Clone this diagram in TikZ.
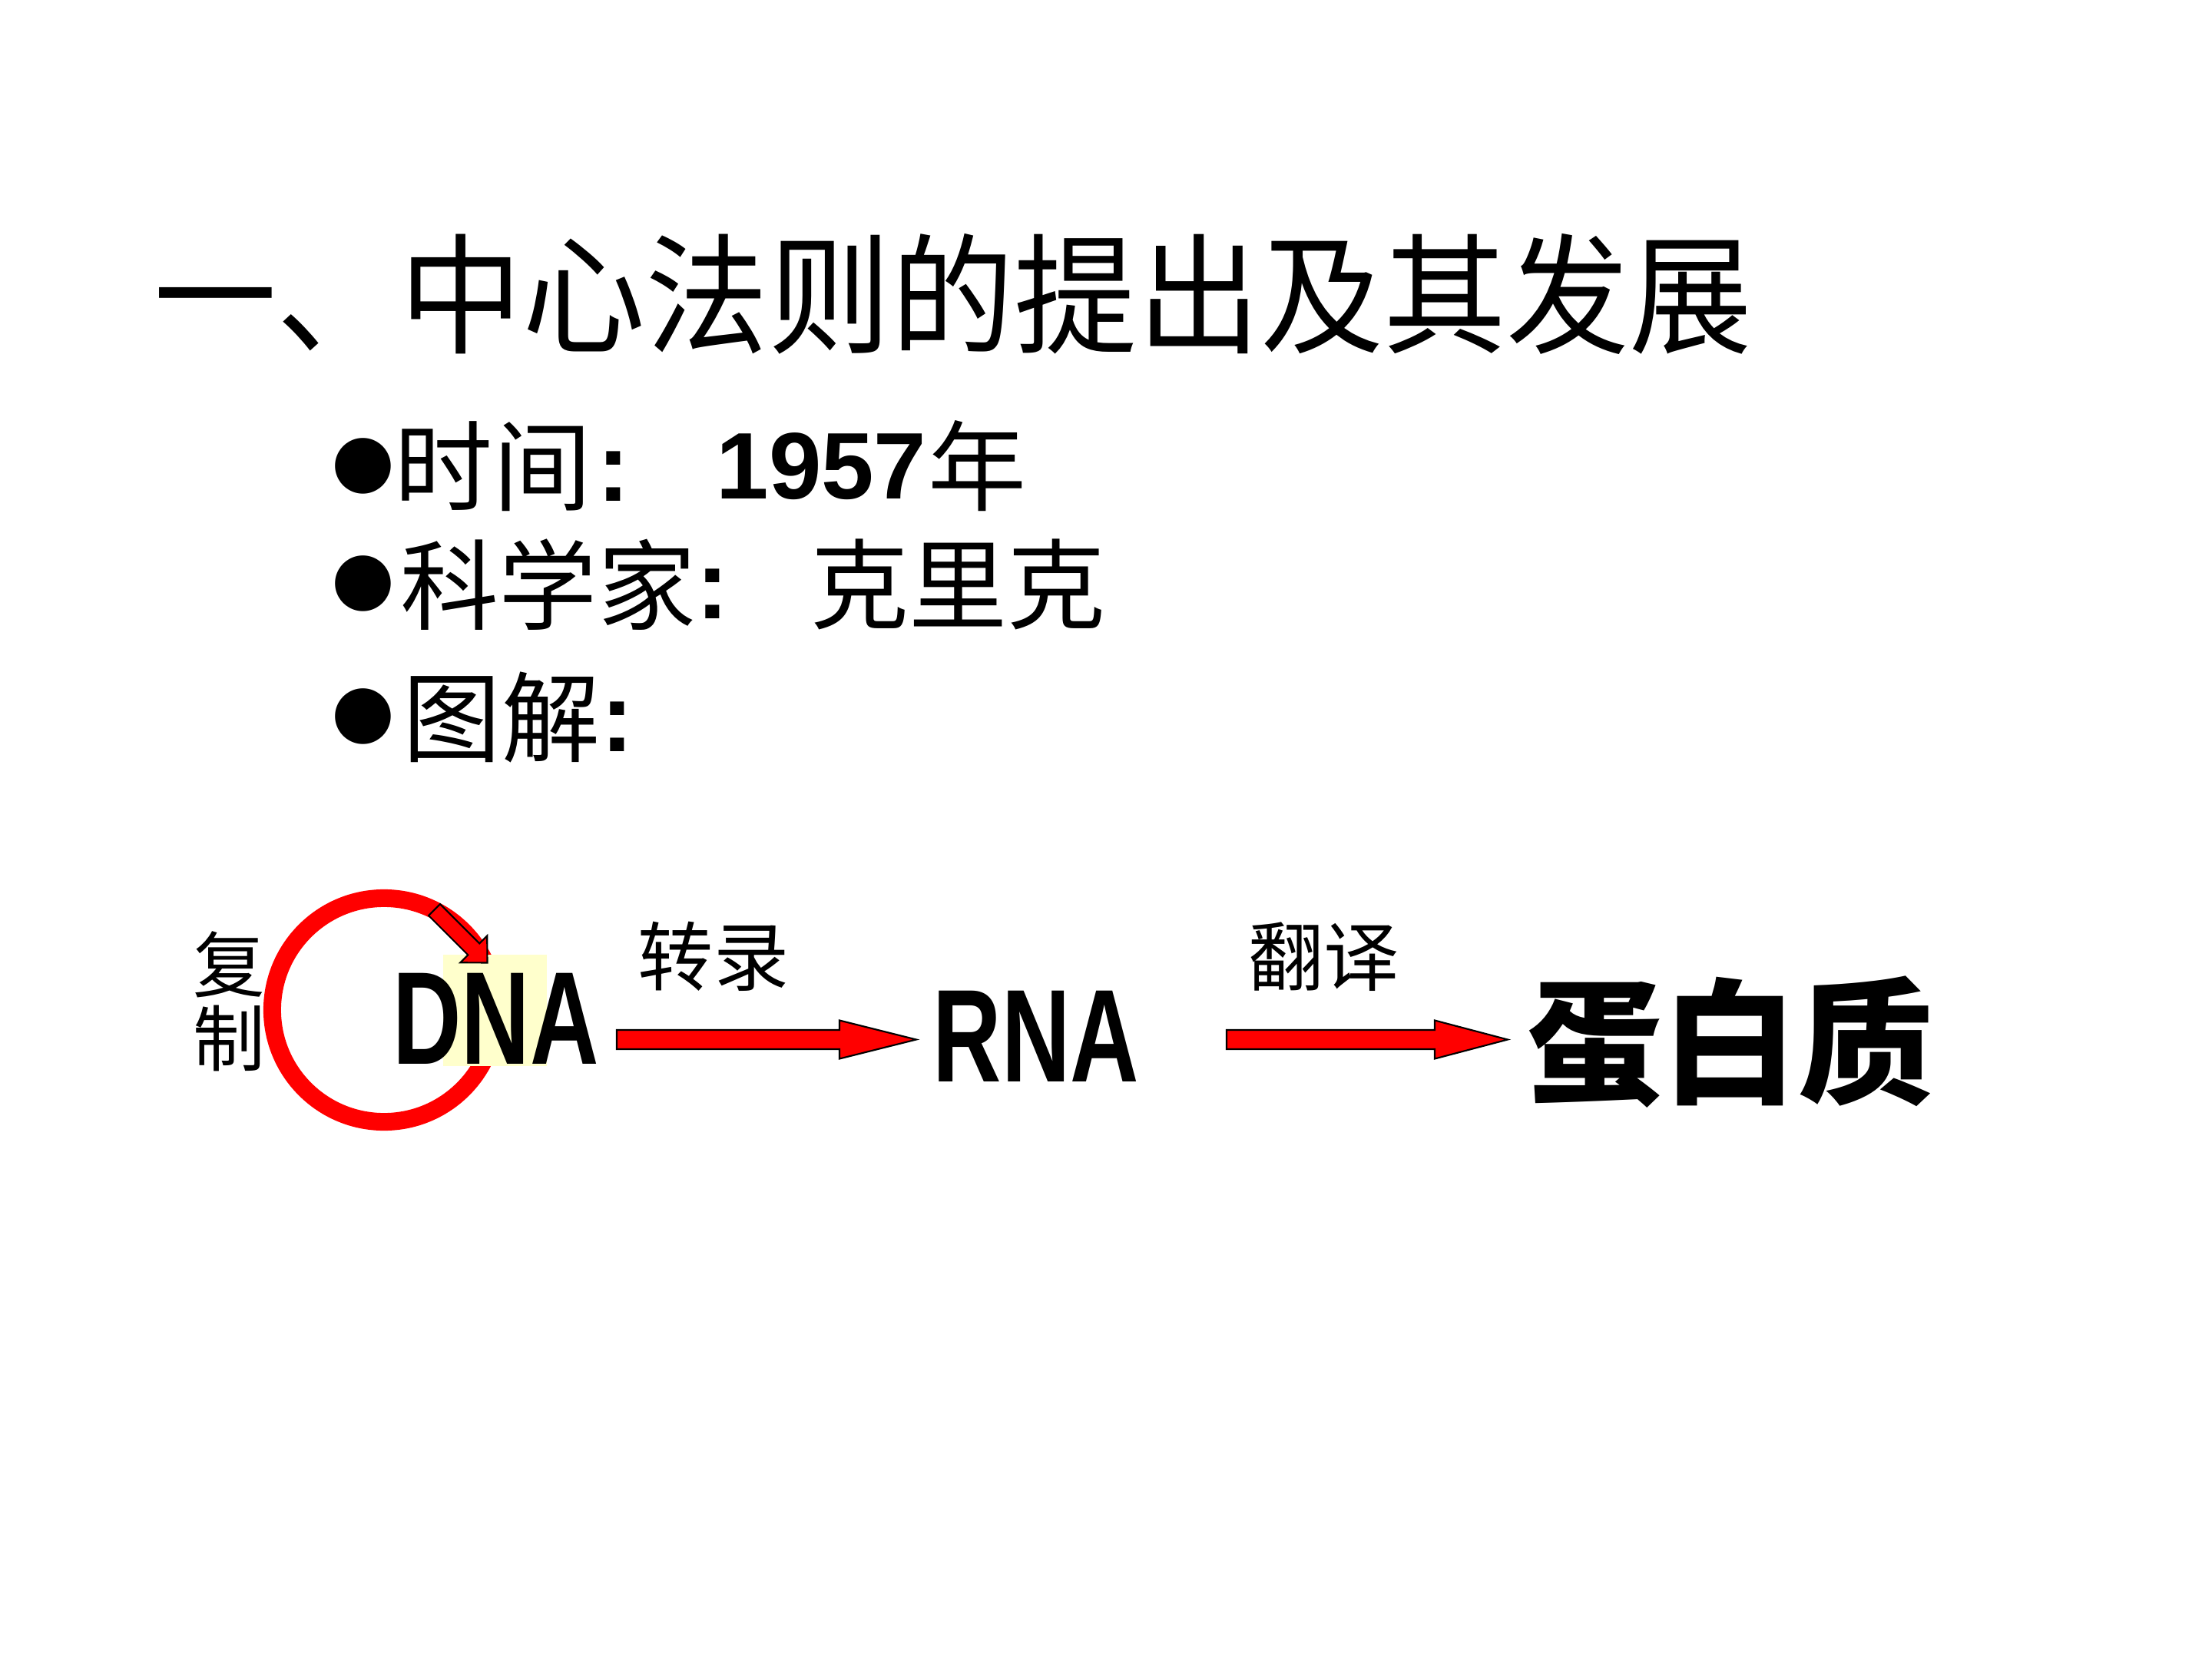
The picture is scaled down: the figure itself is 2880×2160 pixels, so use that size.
\documentclass[tikz,border=0pt]{standalone}
\usepackage{fontspec}
\newfontfamily\cjk{Noto Sans CJK SC}
\newfontfamily\lsans{Liberation Sans}
\newfontfamily\djv{DejaVu Sans}
\usetikzlibrary{calc}
\definecolor{hlyellow}{RGB}{255,255,204}
\definecolor{arrred}{RGB}{255,0,0}
\tikzset{
  txt/.style={inner sep=0pt, outer sep=0pt, anchor=center},
  titlefont/.style={font=\cjk\fontsize{45.5pt}{50pt}\selectfont},
  linefont/.style={font=\cjk\fontsize{36.4pt}{40pt}\selectfont},
  bulletfont/.style={font=\djv\fontsize{27pt}{30pt}\selectfont},
  colonfont/.style={font=\lsans\bfseries\fontsize{36.4pt}{40pt}\selectfont},
  numfont/.style={font=\lsans\bfseries\fontsize{35pt}{40pt}\selectfont},
  labelfont/.style={font=\cjk\fontsize{27.9pt}{30pt}\selectfont},
  molfont/.style={font=\lsans\bfseries\fontsize{48.9pt}{52pt}\selectfont, xscale=0.72},
  protfont/.style={font=\cjk\bfseries\fontsize{50.1pt}{54pt}\selectfont, yscale=1.0},
  blockstyle/.style={fill=arrred, draw=black, line width=0.6pt, line join=miter},
  ringstyle/.style={draw=arrred, line width=0.23cm}
}
\newcommand\bul{\makebox[21pt][c]{●}}
% block arrow: #1 start, #2 tip, #3 half shaft width, #4 half head width, #5 head length
\newcommand\blockarr[5]{%
  \coordinate (bab) at ($(#2)!#5!(#1)$);
  \filldraw[blockstyle] ($(#1)!#3!90:(#2)$) -- ($(bab)!#3!-90:(#1)$) -- ($(bab)!#4!-90:(#1)$)
    -- (#2) -- ($(bab)!#4!90:(#1)$) -- ($(bab)!#3!90:(#1)$) -- ($(#1)!#3!-90:(#2)$) -- cycle;}
\begin{document}
\begin{tikzpicture}[x=0.01cm, y=-0.01cm]
\useasboundingbox (0,0) rectangle (2880,2160);
\fill[white] (0,0) rectangle (2880,2160);

% title
\node[txt, titlefont, yscale=1.06] (title) at (1241,383) {一、中心法则的提出及其发展};

% line 1
\node[txt, bulletfont] (b1) at (473,607) {\bul};
\node[txt, linefont] (t1) at (642,607) {时间};
\node[txt, colonfont] (c1) at (799,620) {:};
\node[txt, numfont] (n1) at (1069.5,607) {1957};
\node[txt, linefont] (y1) at (1272,607) {年};

% line 2
\node[txt, bulletfont] (b2) at (473,760) {\bul};
\node[txt, linefont] (t2) at (714,761) {科学家};
\node[txt, colonfont] (c2) at (928,773) {:};
\node[txt, linefont] (k2) at (1247.5,761) {克里克};

% line 3
\node[txt, bulletfont] (b3) at (473,933) {\bul};
\node[txt, linefont] (t3) at (653,934) {图解};
\node[txt, colonfont] (c3) at (804,946) {:};

% replication loop
\coordinate (loopc) at (500,1315);
\draw[ringstyle] (loopc) circle[radius=1.455cm];
\fill[hlyellow] (577,1243) rectangle (712,1388);
\coordinate (ls) at (565.5,1184.5);
\coordinate (le) at (634.5,1253.5);
\blockarr{ls}{le}{0.106cm}{0.246cm}{0.25cm}

% molecules
\node[txt, molfont] (dna) at (645.5,1326.5) {DNA};
\node[txt, molfont] (rna) at (1349,1349) {RNA};
\node[txt, protfont] (prot) at (2253,1357) {蛋白质};

% labels
\node[txt, font=\cjk\fontsize{26.7pt}{27.3pt}\selectfont, align=center] (fuzhi) at (298,1304) {复\\制};
\node[txt, labelfont] (zhuanlu) at (929,1245) {转录};
\node[txt, labelfont] (fanyi) at (1723.5,1246) {翻译};

% arrows
\coordinate (a1s) at (803,1353.5);
\coordinate (a1e) at (1193,1353.5);
\coordinate (a2s) at (1597,1353.5);
\coordinate (a2e) at (1963,1353.5);
\blockarr{a1s}{a1e}{0.125cm}{0.25cm}{1.0cm}
\blockarr{a2s}{a2e}{0.125cm}{0.25cm}{0.95cm}
\end{tikzpicture}
\end{document}
